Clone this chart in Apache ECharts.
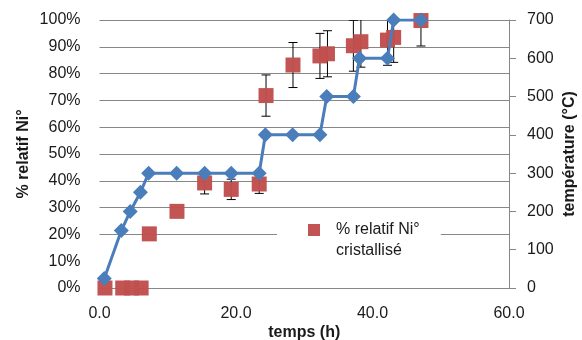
<!DOCTYPE html>
<html>
<head>
<meta charset="utf-8">
<script src="https://cdn.jsdelivr.net/npm/echarts@6/dist/echarts.min.js"></script>
<style>
html,body{margin:0;padding:0;background:#fff;}
#chart{width:582px;height:340px;}
</style>
</head>
<body>
<div id="chart"></div>
<script>
// Temperature series (right axis)
const tempTimes = [0.7, 3.2, 4.5, 6.0, 7.2, 11.3, 15.4, 19.3, 23.4, 24.3, 28.3, 32.3, 33.3, 37.2, 38.1, 42.2, 43.1, 47.1];
const tempValues = [25, 150, 200, 250, 300, 300, 300, 300, 300, 400, 400, 400, 500, 500, 600, 600, 700, 700];
// % relatif Ni° cristallisé (left axis)
const niTimes = [0.8, 3.4, 4.7, 6.1, 7.3, 11.35, 15.4, 19.3, 23.4, 24.4, 28.35, 32.3, 33.4, 37.2, 38.3, 42.2, 43.1, 47.1];
const niValues = [0, 0, 0, 0, 20.2, 28.6, 39.2, 36.8, 38.8, 71.8, 83.2, 86.6, 87.4, 90.4, 91.9, 92.5, 93.5, 99.8];
const niErrors = [0, 0, 0, 0, 0, 0, 4.1, 3.8, 3.5, 7.7, 8.4, 8.4, 8.6, 9.5, 9.5, 9.4, 9.3, 9.5];
const xTicks = [0, 20, 40, 60];
const leftLabel = '% relatif Ni°';
const rightLabel = 'température (°C)';
const xLabel = 'temps (h)';
const legendLine1 = '% relatif Ni°';
const legendLine2 = 'cristallisé';

const FONT = 'Liberation Sans';
const grid = '#878787';
const txt = '#1a1a1a';

const tempData = tempTimes.map((t, i) => [t, tempValues[i]]);
const niData = niTimes.map((t, i) => [t, niValues[i]]);
const errData = niTimes.map((t, i) => [t, niValues[i], niErrors[i]]).filter(d => d[2] > 0);

const splitColors = [];
for (let i = 0; i <= 10; i++) splitColors.push(i === 1 ? 'rgba(0,0,0,0)' : grid);

const chart = echarts.init(document.getElementById('chart'), null, {renderer: 'canvas'});
chart.setOption({
  animation: false,
  backgroundColor: '#fff',
  textStyle: {fontFamily: FONT},
  grid: {left: 99.5, right: 73, top: 20, bottom: 52, containLabel: false, outerBoundsMode: 'none'},
  legend: {
    show: true,
    left: 277, top: 212,
    orient: 'vertical',
    backgroundColor: '#fff',
    padding: [7, 21, 7, 31],
    itemWidth: 12, itemHeight: 12,
    data: [{name: 'ni', icon: 'rect'}],
    formatter: () => legendLine1,
    textStyle: {fontFamily: FONT, fontSize: 16, color: txt, lineHeight: 22, padding: [0, 0, 0, 11]}
  },
  graphic: [{
    type: 'text', left: 336, top: 243, z: 10,
    style: {text: legendLine2, fontFamily: FONT, fontSize: 16, fill: txt}
  }],
  xAxis: {
    type: 'value', min: xTicks[0], max: xTicks[xTicks.length - 1], interval: 20,
    name: xLabel, nameLocation: 'middle', nameGap: 37, nameMoveOverlap: false,
    nameTextStyle: {fontFamily: FONT, fontSize: 16, fontWeight: 'bold', color: txt},
    axisLine: {show: true, lineStyle: {color: grid, width: 1}},
    axisTick: {show: false},
    splitLine: {show: false},
    axisLabel: {margin: 18, fontFamily: FONT, fontSize: 16, color: txt, formatter: v => v.toFixed(1)}
  },
  yAxis: [
    {
      type: 'value', min: 0, max: 100, interval: 10, position: 'left',
      name: leftLabel, nameLocation: 'middle', nameGap: 68, nameMoveOverlap: false,
      nameTextStyle: {fontFamily: FONT, fontSize: 16, fontWeight: 'bold', color: txt},
      axisLine: {show: false}, axisTick: {show: false},
      splitLine: {show: true, lineStyle: {color: splitColors, width: 1}},
      axisLabel: {margin: 19, fontFamily: FONT, fontSize: 16, color: txt, formatter: '{value}%'}
    },
    {
      type: 'value', min: 0, max: 700, interval: 100, position: 'right',
      name: rightLabel, nameLocation: 'middle', nameGap: 53, nameMoveOverlap: false,
      nameTextStyle: {fontFamily: FONT, fontSize: 16, fontWeight: 'bold', color: txt},
      axisLine: {show: true, lineStyle: {color: grid, width: 1}},
      axisTick: {show: true, inside: false, length: 7, lineStyle: {color: grid}},
      splitLine: {show: false},
      axisLabel: {margin: 18, fontFamily: FONT, fontSize: 16, color: txt}
    }
  ],
  series: [
    {
      name: 'err', type: 'custom', yAxisIndex: 0, clip: true, z: 2,
      data: errData,
      renderItem: function (params, api) {
        const x = api.value(0), v = api.value(1), e = api.value(2);
        const top = api.coord([x, Math.min(v + e, 100)]);
        const bot = api.coord([x, v - e]);
        const hw = 4.5;
        const children = [
          {type: 'line', shape: {x1: top[0], y1: top[1], x2: bot[0], y2: bot[1]}, style: {stroke: '#000', lineWidth: 1}},
          {type: 'line', shape: {x1: bot[0] - hw, y1: bot[1], x2: bot[0] + hw, y2: bot[1]}, style: {stroke: '#000', lineWidth: 1}}
        ];
        if (v + e <= 100) children.push({type: 'line', shape: {x1: top[0] - hw, y1: top[1], x2: top[0] + hw, y2: top[1]}, style: {stroke: '#000', lineWidth: 1}});
        return {type: 'group', children: children};
      }
    },
    {
      name: 'ni', type: 'scatter', yAxisIndex: 0, z: 3,
      symbol: 'rect', symbolSize: 15,
      itemStyle: {color: '#C0504D', opacity: 0.97},
      data: niData
    },
    {
      name: 'temp', type: 'line', yAxisIndex: 1, z: 4,
      symbol: 'diamond', symbolSize: 15, showAllSymbol: true,
      lineStyle: {color: '#4A7EBB', width: 3},
      itemStyle: {color: '#4A7EBB'},
      data: tempData
    }
  ]
});
</script>
</body>
</html>
